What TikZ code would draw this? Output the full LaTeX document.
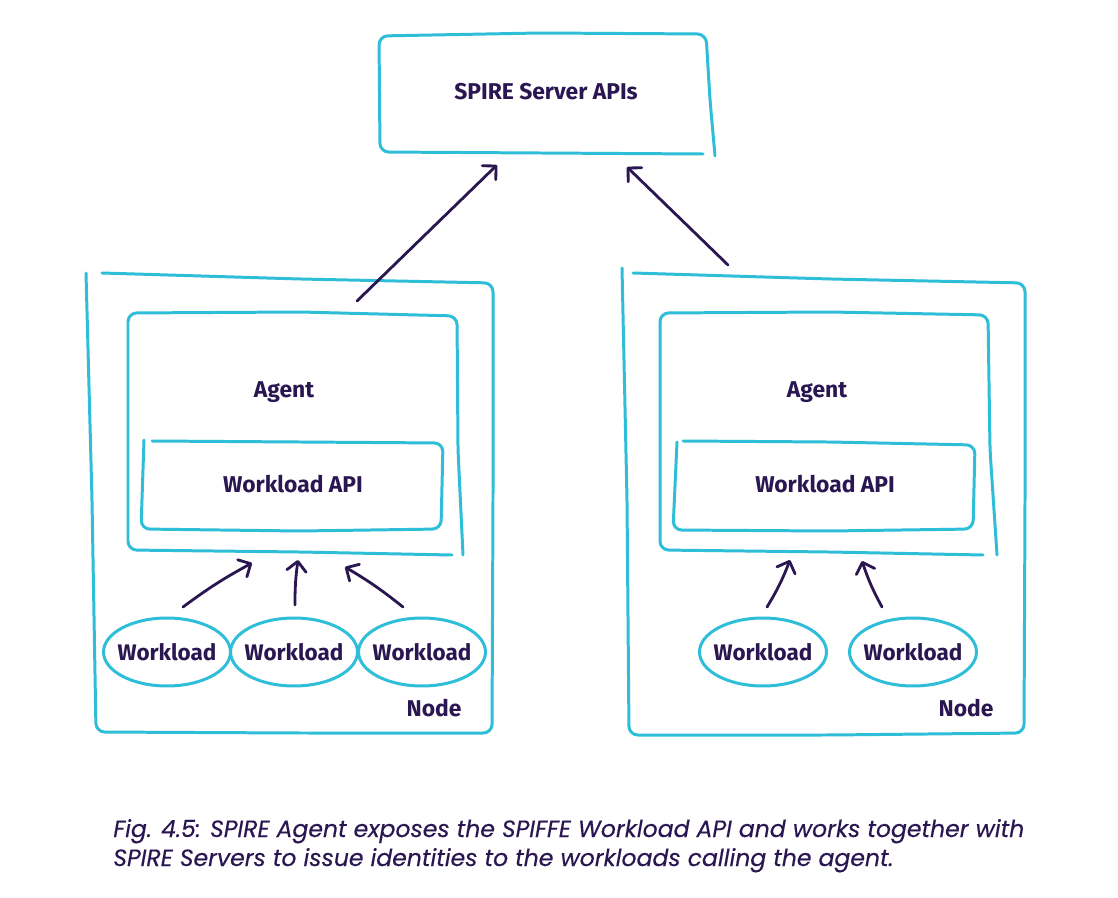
\documentclass[tikz,border=0pt]{standalone}
\usepackage{fontspec}
\setmainfont{Fira Sans}
\newfontfamily\capfont{Poppins}[FakeBold=0.25]
\usetikzlibrary{arrows.meta,shapes.geometric}
\definecolor{cy}{HTML}{2EBED8}
\definecolor{ink}{HTML}{2A1752}
\begin{document}
\begin{tikzpicture}[x=0.02cm,y=-0.02cm,
  sk/.style={draw=cy,line width=1.7pt,rounded corners=5pt,line cap=round,line join=round},
  arr/.style={draw=ink,line width=1.6pt,line cap=round,-{Straight Barb[length=5.5pt,width=11pt,round]}},
  lbl/.style={font=\bfseries\fontsize{13}{15}\selectfont,text=ink,inner sep=0pt,anchor=base},
  wl/.style={ellipse,draw=cy,line width=1.7pt,minimum width=2.54cm,minimum height=1.36cm,inner xsep=-12pt,inner ysep=0pt,font=\bfseries\fontsize{12.8}{15}\selectfont,text=ink},
  captext/.style={font=\capfont\itshape\fontsize{13.4}{16}\selectfont,text=ink,inner sep=0pt,anchor=base west}]
\fill[white] (0,0) rectangle (1118,898);
\useasboundingbox (0,0) rectangle (1118,898);

% ---- top server box
\draw[sk] (703,154) -- (540,153) -- (380,152) -- (379,36) -- (540,33) -- (706,34) -- (710,100) -- (715,156);
\node[lbl] (server) at (546,100) {SPIRE Server APIs};

% ---- left node
\draw[sk] (102,273) -- (300,279) -- (493,283) -- (493,500) -- (492,733) -- (300,733) -- (96,732) -- (92,500) -- (86,273);
\draw[sk] (452,555) -- (300,552) -- (128,550) -- (128,313) -- (300,312) -- (457,316) -- (458,450) -- (463,555);
\draw[sk] (144,440) -- (141,529) -- (300,531) -- (441,529) -- (443,443) -- (300,442) -- (152,441);
\node[lbl] (agentL) at (284,397) {Agent};
\node[lbl] (apiL) at (293,492) {Workload API};
\node[lbl] (nodeL) at (434,716) {Node};
\node[wl] (w1) at (167,652) {Workload};
\node[wl] (w2) at (294,652) {Workload};
\node[wl] (w3) at (422,652) {Workload};

% ---- right node
\draw[sk] (633,273) -- (830,279) -- (1025,283) -- (1025,500) -- (1024,733) -- (830,735) -- (629,735) -- (627,500) -- (622,268);
\draw[sk] (983,555) -- (830,552) -- (660,550) -- (660,313) -- (830,312) -- (988,315) -- (990,450) -- (997,555);
\draw[sk] (677,442) -- (673,530) -- (830,531) -- (973,529) -- (975,445) -- (830,442) -- (683,441);
\node[lbl] (agentR) at (817,397) {Agent};
\node[lbl] (apiR) at (825,492) {Workload API};
\node[lbl] (nodeR) at (966,716) {Node};
\node[wl] (w4) at (763,652) {Workload};
\node[wl] (w5) at (913,652) {Workload};

% ---- arrow end points
\coordinate (a1s) at (183,607); \coordinate (a1e) at (252,563);
\coordinate (a2s) at (295,605); \coordinate (a2e) at (298,560);
\coordinate (a3s) at (403,607); \coordinate (a3e) at (345,567);
\coordinate (a4s) at (767,607); \coordinate (a4e) at (790,560);
\coordinate (a5s) at (882,607); \coordinate (a5e) at (862,561);
\coordinate (t1s) at (357,301); \coordinate (t1e) at (497,165);
\coordinate (t2s) at (728,265); \coordinate (t2e) at (627,167);

\draw[arr] (a1s) to[bend left=4] (a1e);
\draw[arr] (a2s) to[bend left=4] (a2e);
\draw[arr] (a3s) to[bend right=4] (a3e);
\draw[arr] (a4s) to[bend right=5] (a4e);
\draw[arr] (a5s) to[bend left=5] (a5e);
\draw[arr] (t1s) -- (t1e);
\draw[arr] (t2s) -- (t2e);

% ---- caption
\node[captext] (caption1) at (113,837) {Fig. 4.5: SPIRE Agent exposes the SPIFFE Workload API and works together with};
\node[captext] (caption2) at (113,866) {SPIRE Servers to issue identities to the workloads calling the agent.};
\end{tikzpicture}
\end{document}
